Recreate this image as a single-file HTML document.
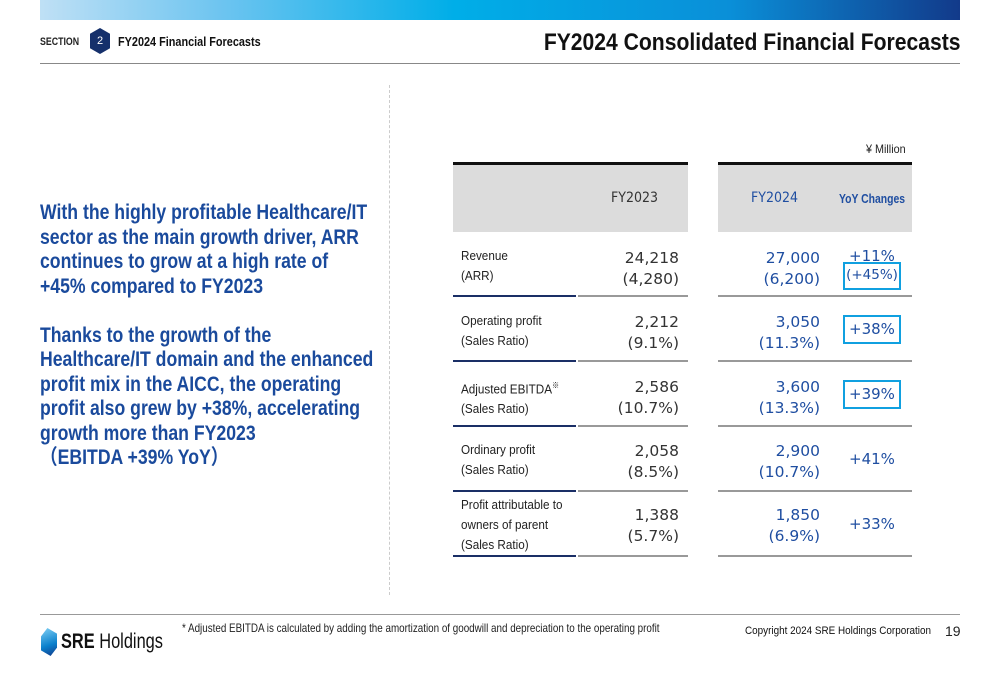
<!DOCTYPE html>
<html><head><meta charset="utf-8"><style>
body{margin:0;width:1000px;height:685px;background:#fff;position:relative;overflow:hidden;font-family:"Liberation Sans","Noto Sans CJK JP",sans-serif;}
.a{position:absolute;white-space:nowrap;}
.lbl{font-size:13px;color:#222;transform:scaleX(0.9);transform-origin:left top;line-height:20px;}
.num{font-size:15.5px;color:#333;text-align:right;line-height:21px;font-family:"DejaVu Sans","Liberation Sans",sans-serif;}
.blue{color:#1f4ea1;}
.yoy{font-size:15px;color:#1f4ea1;text-align:center;width:60px;font-family:"DejaVu Sans","Liberation Sans",sans-serif;line-height:21px;}
.box{position:absolute;border:2.5px solid #10a0e0;box-sizing:border-box;}
.navy{position:absolute;height:2px;background:#1a2f66;}
.gray{position:absolute;height:2px;background:#999;}
</style></head><body>
<div class="a" style="left:40px;top:0;width:920px;height:20px;background:linear-gradient(90deg,#bfe0f5 0%,#6cc4f0 20%,#00aee8 45%,#0a8fd8 75%,#123a8a 100%);"></div>
<div class="a" style="left:40px;top:36px;font-size:11px;font-weight:bold;color:#222;transform:scaleX(0.8);transform-origin:left top;">SECTION</div>
<div class="a" style="left:90px;top:28px;width:20px;height:26px;background:#15306b;clip-path:polygon(50% 0,100% 22%,100% 78%,50% 100%,0 78%,0 22%);color:#fff;font-size:11px;text-align:center;line-height:26px;">2</div>
<div class="a" style="left:118px;top:35px;font-size:12.5px;font-weight:bold;color:#111;transform:scaleX(0.87);transform-origin:left top;">FY2024 Financial Forecasts</div>
<div class="a" style="right:40px;top:29px;font-size:24px;font-weight:bold;color:#111;transform:scaleX(0.88);transform-origin:right top;">FY2024 Consolidated Financial Forecasts</div>
<div class="a" style="left:40px;top:63px;width:920px;height:1px;background:#888;"></div>
<div class="a" style="left:389px;top:85px;height:510px;border-left:1px dashed #ccc;"></div>

<div class="a" style="left:40px;top:201px;font-size:21px;font-weight:bold;color:#1a4a9c;line-height:24.5px;transform:scaleX(0.84);transform-origin:left top;">With the highly profitable Healthcare/IT<br>sector as the main growth driver, ARR<br>continues to grow at a high rate of<br>+45% compared to FY2023<br><br>Thanks to the growth of the<br>Healthcare/IT domain and the enhanced<br>profit mix in the AICC, the operating<br>profit also grew by +38%, accelerating<br>growth more than FY2023<br>（EBITDA +39% YoY）</div>

<div class="a" style="left:866px;top:142px;font-size:12px;color:#222;transform:scaleX(0.9);transform-origin:left top;">¥ Million</div>
<div class="a" style="left:453px;top:162px;width:235px;height:70px;background:#dcdcdc;border-top:3px solid #111;box-sizing:border-box;"></div>
<div class="a" style="left:718px;top:162px;width:194px;height:70px;background:#dcdcdc;border-top:3px solid #111;box-sizing:border-box;"></div>
<div class="a" style="left:611px;top:190px;font-size:14px;color:#333;font-family:'DejaVu Sans',sans-serif;transform:scaleX(0.9);transform-origin:left top;">FY2023</div>
<div class="a blue" style="left:751px;top:190px;font-size:14px;font-family:'DejaVu Sans',sans-serif;transform:scaleX(0.9);transform-origin:left top;">FY2024</div>
<div class="a blue" style="left:839px;top:191px;font-size:13px;font-weight:bold;transform:scaleX(0.8);transform-origin:left top;">YoY Changes</div>

<div class="a lbl" style="left:461px;top:246px;">Revenue<br>(ARR)</div>
<div class="a num" style="right:321px;top:248px;">24,218<br>(4,280)</div>
<div class="a num blue" style="right:180px;top:248px;">27,000<br>(6,200)</div>
<div class="a yoy" style="left:842px;top:246px;">+11%</div>
<div class="box" style="left:843px;top:262px;width:58px;height:28px;"></div>
<div class="a yoy" style="left:842px;top:265px;font-size:13.5px;">(+45%)</div>

<div class="a lbl" style="left:461px;top:311px;">Operating profit<br>(Sales Ratio)</div>
<div class="a num" style="right:321px;top:312px;">2,212<br>(9.1%)</div>
<div class="a num blue" style="right:180px;top:312px;">3,050<br>(11.3%)</div>
<div class="box" style="left:843px;top:315px;width:58px;height:29px;"></div>
<div class="a yoy" style="left:842px;top:319px;">+38%</div>

<div class="a lbl" style="left:461px;top:376px;">Adjusted EBITDA<sup style="font-size:8px">※</sup><br>(Sales Ratio)</div>
<div class="a num" style="right:321px;top:377px;">2,586<br>(10.7%)</div>
<div class="a num blue" style="right:180px;top:377px;">3,600<br>(13.3%)</div>
<div class="box" style="left:843px;top:380px;width:58px;height:29px;"></div>
<div class="a yoy" style="left:842px;top:384px;">+39%</div>

<div class="a lbl" style="left:461px;top:440px;">Ordinary profit<br>(Sales Ratio)</div>
<div class="a num" style="right:321px;top:441px;">2,058<br>(8.5%)</div>
<div class="a num blue" style="right:180px;top:441px;">2,900<br>(10.7%)</div>
<div class="a yoy" style="left:842px;top:449px;">+41%</div>

<div class="a lbl" style="left:461px;top:495px;">Profit attributable to<br>owners of parent<br>(Sales Ratio)</div>
<div class="a num" style="right:321px;top:505px;">1,388<br>(5.7%)</div>
<div class="a num blue" style="right:180px;top:505px;">1,850<br>(6.9%)</div>
<div class="a yoy" style="left:842px;top:514px;">+33%</div>

<div class="navy" style="left:453px;top:295px;width:123px;"></div>
<div class="gray" style="left:578px;top:295px;width:110px;"></div>
<div class="gray" style="left:718px;top:295px;width:194px;"></div>
<div class="navy" style="left:453px;top:360px;width:123px;"></div>
<div class="gray" style="left:578px;top:360px;width:110px;"></div>
<div class="gray" style="left:718px;top:360px;width:194px;"></div>
<div class="navy" style="left:453px;top:425px;width:123px;"></div>
<div class="gray" style="left:578px;top:425px;width:110px;"></div>
<div class="gray" style="left:718px;top:425px;width:194px;"></div>
<div class="navy" style="left:453px;top:490px;width:123px;"></div>
<div class="gray" style="left:578px;top:490px;width:110px;"></div>
<div class="gray" style="left:718px;top:490px;width:194px;"></div>
<div class="navy" style="left:453px;top:555px;width:123px;"></div>
<div class="gray" style="left:578px;top:555px;width:110px;"></div>
<div class="gray" style="left:718px;top:555px;width:194px;"></div>

<div class="a" style="left:40px;top:614px;width:920px;height:1px;background:#999;"></div>
<div class="a" style="left:41px;top:628px;width:16px;height:28px;background:linear-gradient(160deg,#7fd0f5,#0a80cc 60%,#123a8a);clip-path:polygon(40% 0,100% 20%,100% 70%,60% 100%,0 80%,0 30%);"></div>
<div class="a" style="left:61px;top:630px;font-size:21px;color:#111;transform:scaleX(0.78);transform-origin:left top;"><b>SRE</b> Holdings</div>
<div class="a" style="left:182px;top:621px;font-size:12px;color:#222;transform:scaleX(0.82);transform-origin:left top;">* Adjusted EBITDA is calculated by adding the amortization of goodwill and depreciation to the operating profit</div>
<div class="a" style="left:745px;top:625px;font-size:11px;color:#111;transform:scaleX(0.9);transform-origin:left top;">Copyright 2024 SRE Holdings Corporation</div>
<div class="a" style="left:945px;top:623px;font-size:14px;color:#222;">19</div>
</body></html>
